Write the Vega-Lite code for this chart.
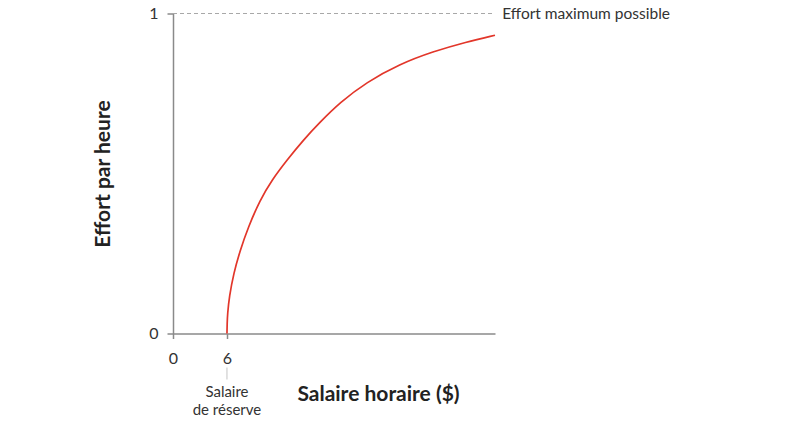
{
  "$schema": "https://vega.github.io/schema/vega-lite/v6.json",
  "autosize": "none",
  "width": 322,
  "height": 320,
  "padding": {"left": 173, "top": 13.5, "right": 314, "bottom": 94.5},
  "background": "white",
  "config": {
    "view": {"stroke": null},
    "font": "Lato",
    "axis": {
      "domainColor": "#8a8a8a",
      "domainWidth": 1.5,
      "tickColor": "#8a8a8a",
      "tickWidth": 1.5,
      "labelColor": "#333333",
      "labelFontSize": 16,
      "labelFont": "Lato",
      "labelFlush": false,
      "titleFont": "Lato",
      "titleFontSize": 21,
      "titleFontWeight": "bold",
      "titleColor": "#222222",
      "grid": false
    }
  },
  "datasets": {
    "curve": [
      {"wage": 6.0, "effort": 0.0},
      {"wage": 6.02, "effort": 0.03},
      {"wage": 6.06, "effort": 0.06},
      {"wage": 6.26, "effort": 0.115},
      {"wage": 6.74, "effort": 0.188},
      {"wage": 7.48, "effort": 0.261},
      {"wage": 8.33, "effort": 0.33},
      {"wage": 9.67, "effort": 0.417},
      {"wage": 11.0, "effort": 0.48},
      {"wage": 12.67, "effort": 0.542},
      {"wage": 14.5, "effort": 0.605},
      {"wage": 16.33, "effort": 0.66},
      {"wage": 18.56, "effort": 0.722},
      {"wage": 21.5, "effort": 0.785},
      {"wage": 25.2, "effort": 0.842},
      {"wage": 28.9, "effort": 0.881},
      {"wage": 32.6, "effort": 0.911},
      {"wage": 35.8, "effort": 0.932}
    ],
    "maxEffort": [
      {"wage": 0, "wage2": 35.6, "effort": 1, "label": "Effort maximum possible"}
    ],
    "reserve": [
      {"wage": 6, "note": "Salaire\nde réserve"}
    ]
  },
  "layer": [
    {
      "data": {"name": "curve"},
      "mark": {"type": "line", "color": "#e2362a", "strokeWidth": 1.7, "interpolate": "basis"},
      "encoding": {
        "x": {
          "field": "wage", "type": "quantitative",
          "scale": {"domain": [0, 35.8], "nice": false},
          "axis": {
            "title": "Salaire horaire ($)",
            "values": [0, 6],
            "format": "d",
            "tickSize": 5,
            "labelPadding": 12,
            "titleX": 205,
            "titleY": 67,
            "titleAlign": "center",
            "titleBaseline": "alphabetic"
          }
        },
        "y": {
          "field": "effort", "type": "quantitative",
          "scale": {"domain": [0, 1], "nice": false},
          "axis": {
            "title": "Effort par heure",
            "values": [0, 1],
            "format": "d",
            "tickSize": 6,
            "labelPadding": 9,
            "titleX": -64,
            "titleY": 160,
            "titleAngle": -90,
            "titleAlign": "center",
            "titleBaseline": "alphabetic"
          }
        }
      }
    },
    {
      "data": {"name": "maxEffort"},
      "mark": {"type": "rule", "color": "#a8a8a8", "strokeWidth": 1, "strokeDash": [4, 3]},
      "encoding": {
        "x": {"field": "wage", "type": "quantitative"},
        "x2": {"field": "wage2"},
        "y": {"field": "effort", "type": "quantitative"}
      }
    },
    {
      "data": {"name": "maxEffort"},
      "mark": {"type": "text", "align": "left", "baseline": "middle", "dx": 9, "fontSize": 15.5, "color": "#333333"},
      "encoding": {
        "x": {"field": "wage2", "type": "quantitative"},
        "y": {"field": "effort", "type": "quantitative"},
        "text": {"field": "label"}
      }
    },
    {
      "data": {"name": "reserve"},
      "mark": {"type": "rule", "color": "#c4c4c4", "strokeWidth": 1, "yOffset": 34, "y2Offset": 46},
      "encoding": {
        "x": {"field": "wage", "type": "quantitative"},
        "y": {"datum": 0, "type": "quantitative"},
        "y2": {"datum": 0}
      }
    },
    {
      "data": {"name": "reserve"},
      "mark": {"type": "text", "align": "center", "baseline": "alphabetic", "dy": 63, "fontSize": 15, "lineHeight": 18, "lineBreak": "\n", "color": "#333333"},
      "encoding": {
        "x": {"field": "wage", "type": "quantitative"},
        "y": {"datum": 0, "type": "quantitative"},
        "text": {"field": "note"}
      }
    }
  ]
}
